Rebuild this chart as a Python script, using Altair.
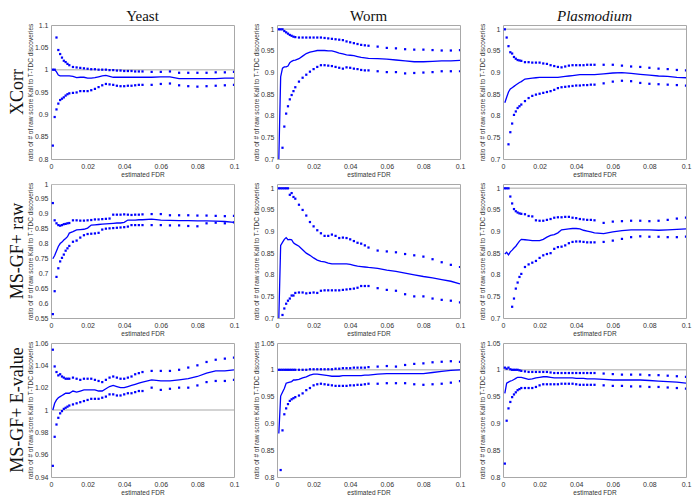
import altair as alt
import pandas as pd

# ---------------- data ----------------
FDR = [0.001, 0.002, 0.003, 0.004, 0.005, 0.006, 0.007, 0.008, 0.009, 0.010,
       0.012, 0.014, 0.016, 0.018, 0.020, 0.022, 0.024, 0.026, 0.028, 0.030,
       0.032, 0.034, 0.036, 0.038, 0.040, 0.042, 0.044, 0.046, 0.048, 0.050,
       0.055, 0.060, 0.065, 0.070, 0.075, 0.080, 0.085, 0.090, 0.095, 0.100]

ROW_NAMES = ["XCorr", "MS-GF+ raw", "MS-GF+ E-value"]
COL_NAMES = ["Yeast", "Worm", "Plasmodium"]
X_TICKS = [0, 0.02, 0.04, 0.06, 0.08, 0.1]
Y_TITLE = "ratio of # of raw score Kall to T-TDC discoveries"
X_TITLE = "estimated FDR"

# --- XCorr ---
yeast_xcorr_lo = [0.830, 0.894, 0.911, 0.924, 0.932, 0.935, 0.938, 0.942, 0.945, 0.947,
                  0.948, 0.949, 0.952, 0.952, 0.952, 0.954, 0.957, 0.961, 0.965, 0.968,
                  0.967, 0.966, 0.964, 0.963, 0.963, 0.964, 0.964, 0.965, 0.966, 0.966,
                  0.966, 0.968, 0.969, 0.965, 0.963, 0.962, 0.963, 0.964, 0.965, 0.966]
yeast_xcorr_mid = [1.000, 1.000, 0.995, 0.988, 0.986, 0.986, 0.986, 0.986, 0.986, 0.986,
                   0.985, 0.982, 0.983, 0.983, 0.981, 0.981, 0.982, 0.984, 0.986, 0.987,
                   0.985, 0.983, 0.983, 0.983, 0.983, 0.983, 0.983, 0.983, 0.983, 0.983,
                   0.983, 0.984, 0.984, 0.980, 0.980, 0.980, 0.980, 0.980, 0.981, 0.981]
yeast_xcorr_hi = [1.000, 1.000, 1.072, 1.044, 1.035, 1.027, 1.020, 1.017, 1.013, 1.010,
                  1.006, 1.005, 1.004, 1.003, 1.002, 1.001, 1.001, 1.000, 1.000, 1.000,
                  0.999, 0.999, 0.998, 0.998, 0.997, 0.997, 0.997, 0.996, 0.996, 0.996,
                  0.995, 0.995, 0.996, 0.993, 0.993, 0.993, 0.993, 0.994, 0.994, 0.995]

worm_xcorr_lo = [None, None, 0.726, 0.775, 0.805, 0.822, 0.838, 0.848, 0.857, 0.866,
                 0.879, 0.888, 0.895, 0.902, 0.908, 0.913, 0.917, 0.917, 0.916, 0.915,
                 0.913, 0.911, 0.909, 0.912, 0.911, 0.909, 0.908, 0.906, 0.905, 0.905,
                 0.903, 0.901, 0.901, 0.898, 0.899, 0.900, 0.901, 0.903, 0.903, 0.903]
worm_xcorr_mid = [0.700, 0.890, 0.910, 0.913, 0.913, 0.915, 0.923, 0.926, 0.928, 0.929,
                  0.932, 0.938, 0.944, 0.947, 0.949, 0.951, 0.951, 0.951, 0.950, 0.950,
                  0.948, 0.945, 0.943, 0.941, 0.940, 0.939, 0.937, 0.935, 0.934, 0.933,
                  0.932, 0.931, 0.929, 0.927, 0.925, 0.925, 0.926, 0.927, 0.927, 0.928]
worm_xcorr_hi = [1.000, 1.000, 1.000, 0.996, 0.993, 0.990, 0.987, 0.985, 0.983, 0.982,
                 0.981, 0.981, 0.981, 0.981, 0.981, 0.981, 0.981, 0.980, 0.979, 0.978,
                 0.977, 0.976, 0.975, 0.972, 0.970, 0.968, 0.966, 0.964, 0.963, 0.962,
                 0.960, 0.957, 0.956, 0.954, 0.953, 0.953, 0.952, 0.951, 0.951, 0.952]

plas_xcorr_lo = [None, None, 0.734, 0.762, 0.782, 0.802, 0.810, 0.818, 0.822, 0.826,
                 0.834, 0.841, 0.846, 0.849, 0.851, 0.853, 0.855, 0.857, 0.860, 0.864,
                 0.866, 0.867, 0.868, 0.869, 0.870, 0.870, 0.871, 0.871, 0.872, 0.872,
                 0.875, 0.879, 0.881, 0.880, 0.876, 0.874, 0.873, 0.872, 0.871, 0.870]
plas_xcorr_mid = [0.830, 0.843, 0.855, 0.862, 0.865, 0.868, 0.871, 0.874, 0.877, 0.879,
                  0.885, 0.886, 0.887, 0.888, 0.889, 0.889, 0.889, 0.889, 0.889, 0.889,
                  0.890, 0.891, 0.892, 0.893, 0.894, 0.895, 0.895, 0.895, 0.895, 0.895,
                  0.897, 0.899, 0.900, 0.898, 0.896, 0.894, 0.892, 0.891, 0.889, 0.888]
plas_xcorr_hi = [1.000, 0.981, 0.961, 0.947, 0.944, 0.936, 0.932, 0.929, 0.928, 0.927,
                 0.924, 0.924, 0.923, 0.923, 0.923, 0.921, 0.920, 0.917, 0.915, 0.913,
                 0.912, 0.914, 0.916, 0.917, 0.917, 0.917, 0.917, 0.918, 0.918, 0.918,
                 0.918, 0.918, 0.916, 0.914, 0.913, 0.911, 0.909, 0.908, 0.906, 0.905]

# --- MS-GF+ raw ---
yeast_raw_lo = [0.563, 0.640, 0.688, 0.717, 0.740, 0.752, 0.763, 0.776, 0.784, 0.792,
                0.806, 0.810, 0.820, 0.828, 0.832, 0.833, 0.834, 0.836, 0.847, 0.850,
                0.851, 0.852, 0.853, 0.854, 0.855, 0.857, 0.862, 0.862, 0.862, 0.862,
                0.862, 0.862, 0.861, 0.861, 0.859, 0.858, 0.868, 0.870, 0.868, 0.871]
yeast_raw_mid = [0.749, 0.760, 0.775, 0.790, 0.800, 0.805, 0.812, 0.817, 0.823, 0.835,
                 0.840, 0.846, 0.847, 0.848, 0.852, 0.862, 0.863, 0.864, 0.865, 0.866,
                 0.867, 0.868, 0.869, 0.869, 0.871, 0.879, 0.879, 0.879, 0.880, 0.880,
                 0.882, 0.879, 0.878, 0.877, 0.877, 0.876, 0.876, 0.875, 0.874, 0.871]
yeast_raw_hi = [0.936, 0.878, 0.868, 0.862, 0.860, 0.862, 0.865, 0.866, 0.868, 0.869,
                0.878, 0.878, 0.877, 0.877, 0.878, 0.879, 0.881, 0.881, 0.882, 0.883,
                0.884, 0.897, 0.897, 0.897, 0.898, 0.897, 0.896, 0.897, 0.897, 0.898,
                0.899, 0.899, 0.895, 0.895, 0.895, 0.894, 0.894, 0.893, 0.892, 0.893]

worm_raw_lo = [None, None, 0.707, 0.722, 0.733, 0.740, 0.745, 0.752, 0.752, 0.758,
               0.759, 0.759, 0.757, 0.758, 0.759, 0.758, 0.763, 0.764, 0.764, 0.764,
               0.764, 0.764, 0.765, 0.766, 0.767, 0.768, 0.770, 0.774, 0.774, 0.774,
               0.769, 0.765, 0.763, 0.755, 0.750, 0.750, 0.745, 0.742, 0.740, 0.736]
worm_raw_mid = [0.700, 0.868, 0.875, 0.882, 0.886, 0.881, 0.882, 0.881, 0.874, 0.871,
                0.866, 0.858, 0.850, 0.845, 0.839, 0.834, 0.831, 0.830, 0.827, 0.825,
                0.825, 0.825, 0.825, 0.825, 0.824, 0.822, 0.820, 0.819, 0.818, 0.817,
                0.815, 0.811, 0.808, 0.804, 0.800, 0.796, 0.793, 0.789, 0.785, 0.779]
worm_raw_hi = [1.000, 1.000, 1.000, 1.000, 1.000, 1.000, 0.985, 0.989, 0.980, 0.976,
               0.962, 0.950, 0.937, 0.922, 0.912, 0.903, 0.896, 0.890, 0.890, 0.893,
               0.890, 0.885, 0.886, 0.885, 0.882, 0.878, 0.874, 0.872, 0.868, 0.863,
               0.856, 0.854, 0.852, 0.848, 0.845, 0.842, 0.836, 0.829, 0.823, 0.818]

plas_raw_lo = [None, None, None, None, 0.726, 0.745, 0.768, 0.782, 0.795, 0.802,
               0.818, 0.824, 0.828, 0.832, 0.839, 0.845, 0.848, 0.850, 0.860, 0.864,
               0.865, 0.868, 0.873, 0.876, 0.877, 0.877, 0.876, 0.875, 0.875, 0.875,
               0.876, 0.879, 0.883, 0.887, 0.889, 0.888, 0.888, 0.887, 0.887, 0.888]
plas_raw_mid = [0.848, 0.852, 0.846, 0.853, 0.857, 0.862, 0.866, 0.872, 0.878, 0.882,
                0.881, 0.880, 0.879, 0.879, 0.879, 0.882, 0.887, 0.891, 0.893, 0.897,
                0.904, 0.905, 0.906, 0.907, 0.907, 0.906, 0.903, 0.901, 0.899, 0.897,
                0.895, 0.899, 0.902, 0.904, 0.904, 0.904, 0.903, 0.904, 0.905, 0.906]
plas_raw_hi = [1.000, 1.000, 1.000, 0.981, 0.965, 0.952, 0.947, 0.944, 0.942, 0.941,
               0.940, 0.936, 0.935, 0.926, 0.925, 0.925, 0.927, 0.929, 0.932, 0.933,
               0.933, 0.934, 0.934, 0.932, 0.931, 0.929, 0.928, 0.927, 0.927, 0.926,
               0.920, 0.923, 0.924, 0.925, 0.925, 0.924, 0.925, 0.927, 0.930, 0.932]

# --- MS-GF+ E-value ---
yeast_ev_lo = [0.950, 0.976, 0.987, 0.993, 0.997, 0.999, 1.001, 1.002, 1.003, 1.004,
               1.005, 1.006, 1.007, 1.008, 1.009, 1.010, 1.010, 1.010, 1.011, 1.012,
               1.014, 1.014, 1.013, 1.013, 1.014, 1.015, 1.015, 1.016, 1.017, 1.017,
               1.020, 1.018, 1.019, 1.020, 1.020, 1.022, 1.025, 1.026, 1.026, 1.027]
yeast_ev_mid = [1.000, 1.006, 1.009, 1.011, 1.012, 1.013, 1.014, 1.015, 1.015, 1.015,
                1.017, 1.016, 1.017, 1.018, 1.018, 1.018, 1.018, 1.017, 1.017, 1.019,
                1.021, 1.022, 1.021, 1.020, 1.020, 1.021, 1.022, 1.023, 1.024, 1.025,
                1.027, 1.026, 1.026, 1.027, 1.028, 1.030, 1.033, 1.035, 1.035, 1.036]
yeast_ev_hi = [1.054, 1.039, 1.034, 1.031, 1.032, 1.030, 1.029, 1.028, 1.028, 1.028,
               1.029, 1.028, 1.027, 1.028, 1.028, 1.028, 1.027, 1.026, 1.025, 1.027,
               1.029, 1.030, 1.029, 1.028, 1.028, 1.029, 1.030, 1.032, 1.033, 1.034,
               1.035, 1.035, 1.035, 1.036, 1.038, 1.040, 1.043, 1.045, 1.046, 1.047]

worm_ev_lo = [None, 0.813, 0.887, 0.917, 0.928, 0.936, 0.942, 0.945, 0.947, 0.949,
              0.952, 0.956, 0.962, 0.966, 0.971, 0.973, 0.974, 0.973, 0.972, 0.971,
              0.970, 0.970, 0.970, 0.970, 0.971, 0.971, 0.972, 0.972, 0.973, 0.974,
              0.974, 0.975, 0.975, 0.975, 0.973, 0.972, 0.973, 0.974, 0.976, 0.979]
worm_ev_mid = [0.881, 0.951, 0.958, 0.965, 0.975, 0.976, 0.977, 0.978, 0.981, 0.981,
               0.982, 0.985, 0.987, 0.990, 0.992, 0.992, 0.991, 0.990, 0.989, 0.988,
               0.988, 0.988, 0.989, 0.989, 0.989, 0.989, 0.989, 0.989, 0.990, 0.990,
               0.992, 0.993, 0.993, 0.993, 0.993, 0.993, 0.995, 0.997, 0.999, 1.000]
worm_ev_hi = [1.000, 1.000, 1.000, 1.000, 1.000, 1.000, 1.000, 1.000, 1.000, 1.000,
              1.000, 1.000, 1.000, 1.001, 1.001, 1.001, 1.001, 1.001, 1.001, 1.001,
              1.002, 1.002, 1.003, 1.003, 1.003, 1.004, 1.004, 1.004, 1.004, 1.005,
              1.006, 1.007, 1.006, 1.009, 1.011, 1.012, 1.014, 1.015, 1.016, 1.015]

plas_ev_lo = [0.825, 0.905, 0.928, 0.940, 0.949, 0.954, 0.958, 0.962, 0.964, 0.966,
              0.966, 0.966, 0.966, 0.968, 0.971, 0.973, 0.973, 0.973, 0.973, 0.973,
              0.974, 0.974, 0.974, 0.974, 0.973, 0.972, 0.972, 0.972, 0.972, 0.972,
              0.971, 0.970, 0.970, 0.969, 0.969, 0.968, 0.968, 0.967, 0.966, 0.965]
plas_ev_mid = [0.956, 0.975, 0.977, 0.979, 0.980, 0.982, 0.984, 0.986, 0.986, 0.986,
               0.984, 0.982, 0.983, 0.985, 0.986, 0.987, 0.987, 0.986, 0.985, 0.985,
               0.985, 0.985, 0.985, 0.985, 0.984, 0.984, 0.984, 0.983, 0.983, 0.983,
               0.982, 0.981, 0.981, 0.981, 0.981, 0.980, 0.979, 0.978, 0.977, 0.975]
plas_ev_hi = [1.004, 1.002, 1.004, 1.001, 1.000, 1.000, 1.000, 1.000, 0.999, 0.998,
              0.997, 0.996, 0.996, 0.996, 0.996, 0.996, 0.996, 0.995, 0.994, 0.994,
              0.994, 0.994, 0.994, 0.994, 0.994, 0.994, 0.994, 0.994, 0.994, 0.994,
              0.993, 0.992, 0.991, 0.991, 0.991, 0.990, 0.990, 0.989, 0.988, 0.987]

SERIES = {
    (0, 0): (yeast_xcorr_lo, yeast_xcorr_mid, yeast_xcorr_hi),
    (0, 1): (worm_xcorr_lo, worm_xcorr_mid, worm_xcorr_hi),
    (0, 2): (plas_xcorr_lo, plas_xcorr_mid, plas_xcorr_hi),
    (1, 0): (yeast_raw_lo, yeast_raw_mid, yeast_raw_hi),
    (1, 1): (worm_raw_lo, worm_raw_mid, worm_raw_hi),
    (1, 2): (plas_raw_lo, plas_raw_mid, plas_raw_hi),
    (2, 0): (yeast_ev_lo, yeast_ev_mid, yeast_ev_hi),
    (2, 1): (worm_ev_lo, worm_ev_mid, worm_ev_hi),
    (2, 2): (plas_ev_lo, plas_ev_mid, plas_ev_hi),
}

Y_DOMAINS = {
    (0, 0): [0.8, 1.1], (0, 1): [0.7, 1.01], (0, 2): [0.7, 1.01],
    (1, 0): [0.55, 1.0], (1, 1): [0.7, 1.01], (1, 2): [0.7, 1.01],
    (2, 0): [0.94, 1.06], (2, 1): [0.8, 1.05], (2, 2): [0.8, 1.05],
}
TICKS_A = [0.7, 0.75, 0.8, 0.85, 0.9, 0.95, 1.0]
Y_TICKS = {
    (0, 0): [0.8, 0.85, 0.9, 0.95, 1.0, 1.05, 1.1], (0, 1): TICKS_A, (0, 2): TICKS_A,
    (1, 0): [0.55, 0.6, 0.65, 0.7, 0.75, 0.8, 0.85, 0.9, 0.95, 1.0], (1, 1): TICKS_A, (1, 2): TICKS_A,
    (2, 0): [0.94, 0.96, 0.98, 1.0, 1.02, 1.04, 1.06],
    (2, 1): [0.8, 0.85, 0.9, 0.95, 1.0, 1.05], (2, 2): [0.8, 0.85, 0.9, 0.95, 1.0, 1.05],
}

# ---------------- chart ----------------
W, H = 183, 134
BLUE = "#0000ff"
SERIF = "Liberation Serif"
SANS = "Liberation Sans"


def panel(r, c):
    lo, mid, hi = SERIES[(r, c)]
    d_mid = pd.DataFrame({"x": FDR, "v": mid}).dropna()
    d_pts = pd.concat([pd.DataFrame({"x": FDR, "v": lo}),
                       pd.DataFrame({"x": FDR, "v": hi})]).dropna()
    xenc = alt.X("x:Q", scale=alt.Scale(domain=[0, 0.1], nice=False, zero=False),
                 axis=alt.Axis(values=X_TICKS, format="~g", title=X_TITLE,
                               labelFlush=False, labelOverlap=False, titlePadding=2))
    yenc = alt.Y("v:Q", scale=alt.Scale(domain=Y_DOMAINS[(r, c)], nice=False, zero=False),
                 axis=alt.Axis(values=Y_TICKS[(r, c)], format="~g", title=Y_TITLE,
                               labelFlush=False, labelOverlap=False, titlePadding=1))
    ref = alt.Chart(pd.DataFrame({"v": [1.0]})).mark_rule(
        color="#c4c4c4", strokeWidth=1.5, clip=True).encode(y=yenc)
    line = alt.Chart(d_mid).mark_line(color=BLUE, strokeWidth=1.3, clip=True).encode(x=xenc, y=yenc)
    pts = alt.Chart(d_pts).mark_square(color=BLUE, size=5, opacity=1, clip=True).encode(x=xenc, y=yenc)
    layers = [ref, line, pts]
    if c == 0:
        layers.append(alt.Chart(pd.DataFrame({"t": [ROW_NAMES[r]]})).mark_text(
            font=SERIF, fontSize=18, angle=270, align="center", baseline="middle", color="#111"
        ).encode(x=alt.value(-33), y=alt.value(H / 2), text="t:N"))
    if r == 0:
        layers.append(alt.Chart(pd.DataFrame({"t": [COL_NAMES[c]]})).mark_text(
            font=SERIF, fontSize=15, align="center", baseline="alphabetic", color="#111",
            fontStyle="italic" if c == 2 else "normal"
        ).encode(x=alt.value(W / 2), y=alt.value(-4), text="t:N"))
    return alt.layer(*layers).properties(width=W, height=H)


panels = [panel(r, c) for r in range(3) for c in range(3)]

chart = alt.concat(
    *panels, columns=3, spacing={"row": 25, "column": 43}, bounds="flush", padding=0
).configure_view(
    stroke="#a8a8a8", strokeWidth=1
).configure_axis(
    grid=False, ticks=False, domain=False,
    labelFont=SANS, labelFontSize=7, labelColor="#333333", labelPadding=3,
    titleFont=SANS, titleFontSize=6.5, titleFontWeight="normal", titleColor="#333333"
)

chart.save("out.html", embed_options={"renderer": "svg", "actions": False})
